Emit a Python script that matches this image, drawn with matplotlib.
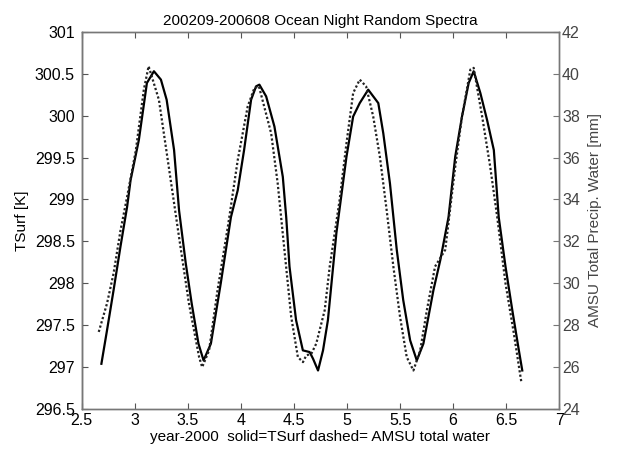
import matplotlib
matplotlib.use("Agg")
import matplotlib.pyplot as plt

plt.rcParams['font.family'] = ['Liberation Sans', 'DejaVu Sans']

# TSurf (solid, left axis)
tsurf_year = [2.685, 2.738, 2.80, 2.865, 2.927, 2.96, 3.038, 3.114, 3.18, 3.246, 3.30,
              3.37, 3.417, 3.48, 3.536, 3.60, 3.648, 3.717, 3.81, 3.906, 3.97, 4.03,
              4.096, 4.143, 4.174, 4.238, 4.316, 4.395, 4.427, 4.458, 4.52, 4.584,
              4.648, 4.68, 4.727, 4.774, 4.82, 4.9, 4.995, 5.058, 5.12, 5.2, 5.295,
              5.342, 5.405, 5.469, 5.53, 5.595, 5.658, 5.72, 5.815, 5.88, 5.957, 6.02,
              6.084, 6.147, 6.194, 6.257, 6.32, 6.384, 6.43, 6.494, 6.558, 6.62, 6.652]
tsurf_K = [297.04, 297.44, 297.92, 298.44, 298.91, 299.23, 299.71, 300.39, 300.53,
           300.43, 300.19, 299.59, 298.87, 298.24, 297.76, 297.28, 297.08, 297.28,
           298.0, 298.79, 299.11, 299.59, 300.19, 300.35, 300.37, 300.23, 299.87,
           299.27, 298.79, 298.2, 297.56, 297.2, 297.18, 297.1, 296.96, 297.2, 297.56,
           298.6, 299.51, 299.99, 300.15, 300.31, 300.15, 299.79, 299.19, 298.4, 297.8,
           297.32, 297.08, 297.28, 297.92, 298.28, 298.79, 299.51, 299.99, 300.39,
           300.53, 300.27, 299.95, 299.59, 298.79, 298.2, 297.68, 297.2, 296.96]

# AMSU total water (dashed, right axis) [mm]
amsu_year = [2.66, 2.738, 2.80, 2.865, 2.927, 3.01, 3.085, 3.13, 3.227, 3.32, 3.417,
             3.51, 3.606, 3.635, 3.70, 3.78, 3.88, 3.97, 4.064, 4.127, 4.17, 4.285,
             4.347, 4.41, 4.474, 4.537, 4.585, 4.616, 4.664, 4.71, 4.758, 4.79, 4.837,
             4.93, 4.995, 5.058, 5.12, 5.18, 5.247, 5.31, 5.374, 5.437, 5.5, 5.563,
             5.626, 5.69, 5.753, 5.83, 5.926, 6.02, 6.084, 6.163, 6.194, 6.274, 6.35,
             6.416, 6.494, 6.573, 6.636, 6.645]
amsu_mm = [27.68, 29.04, 30.48, 32.52, 34.12, 36.36, 39.24, 40.36, 38.76, 35.56, 32.2,
           29.04, 26.48, 26.0, 26.8, 29.68, 32.8, 35.88, 38.44, 39.32, 39.4, 37.16,
           34.76, 31.6, 28.4, 26.48, 26.24, 26.56, 26.64, 27.12, 28.08, 28.72, 30.8,
           33.96, 36.68, 39.08, 39.72, 39.4, 37.96, 36.04, 33.48, 30.8, 28.4, 26.48,
           25.84, 26.8, 28.72, 30.8, 31.6, 35.56, 37.96, 40.2, 40.28, 37.96, 35.56,
           33.16, 30.0, 27.6, 25.52, 25.24]

xticks = [2.5, 3, 3.5, 4, 4.5, 5, 5.5, 6, 6.5, 7]
left_ticks = [296.5, 297, 297.5, 298, 298.5, 299, 299.5, 300, 300.5, 301]
right_ticks = [24, 26, 28, 30, 32, 34, 36, 38, 40, 42]

fig = plt.figure(figsize=(6.29, 4.55), dpi=100)
ax = fig.add_axes([0.130, 0.101, 0.759, 0.829])
ax2 = ax.twinx()

ax.plot(tsurf_year, tsurf_K, color='black', lw=1.6, ls='-')
ax2.plot(amsu_year, amsu_mm, color='#222222', lw=1.6, ls=(0, (1, 1)))

ax.set_xlim(2.5, 7)
ax.set_ylim(296.5, 301)
ax2.set_ylim(24, 42)
ax.set_xticks(xticks)
ax.set_xticklabels([f"{t:g}" for t in xticks])
ax.set_yticks(left_ticks)
ax.set_yticklabels([f"{t:g}" for t in left_ticks])
ax2.set_yticks(right_ticks)
ax2.set_yticklabels([str(t) for t in right_ticks])

ax.tick_params(axis='x', direction='in', top=True, length=4, labelsize=11.5, colors='#555555', labelcolor='black', pad=3)
ax.tick_params(axis='y', direction='in', length=4, labelsize=11.5, colors='#555555', labelcolor='black', pad=5)
ax2.tick_params(axis='y', direction='in', length=4, labelsize=11.5, colors='#777777', labelcolor='#444444', pad=2)

for a in (ax, ax2):
    for s in a.spines.values():
        s.set_color('#777777')
        s.set_linewidth(1.0)
ax.spines['left'].set_color('#333333')

ax.set_ylabel('TSurf [K]', fontsize=11, labelpad=4)
ax2.set_ylabel('AMSU Total Precip. Water [mm]', fontsize=11, color='#444444', labelpad=6)
ax.set_xlabel('year-2000  solid=TSurf dashed= AMSU total water', fontsize=11, labelpad=1)
ax.set_title('200209-200608 Ocean Night Random Spectra', fontsize=11, pad=5)

fig.savefig('out.png', dpi=100)
